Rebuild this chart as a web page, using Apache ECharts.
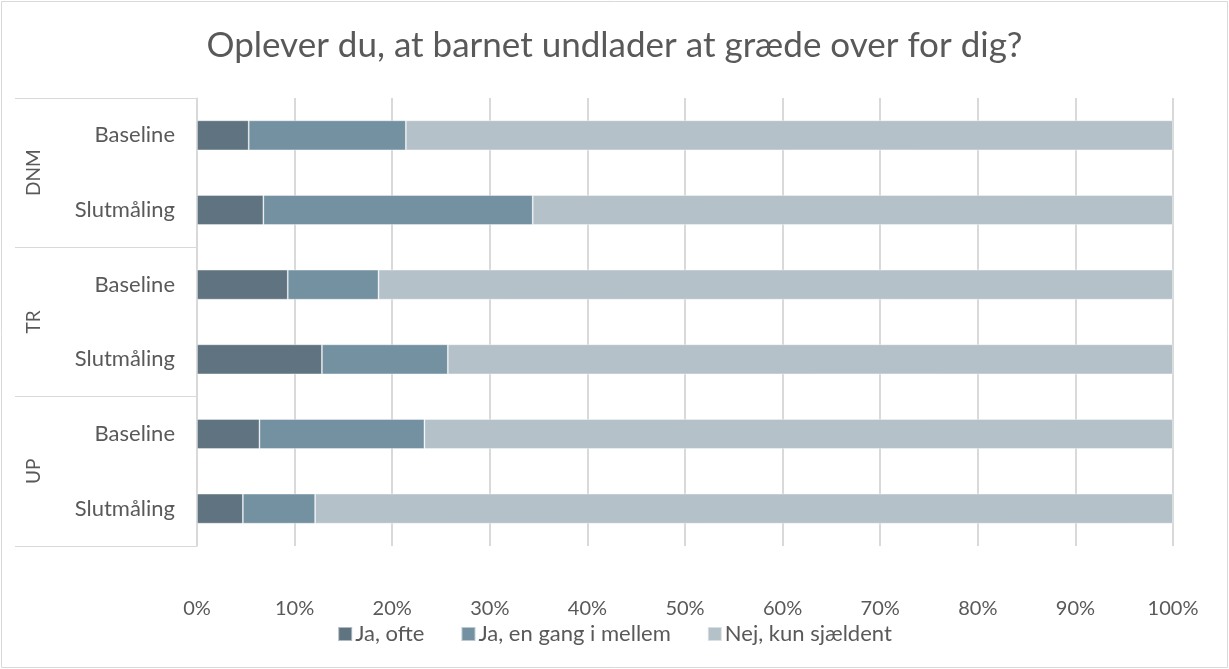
<!DOCTYPE html>
<html>
<head>
<meta charset="utf-8">
<script src="https://cdn.jsdelivr.net/npm/echarts@6/dist/echarts.min.js"></script>
<style>
  html, body { margin: 0; padding: 0; background: #fff; }
  #chart { width: 1229px; height: 669px; }
</style>
</head>
<body>
<div id="chart"></div>
<script>
// data
const groups = ['DNM', 'TR', 'UP']
const categories = ['Baseline', 'Slutmåling', 'Baseline', 'Slutmåling', 'Baseline', 'Slutmåling']
const seriesNames = ['Ja, ofte', 'Ja, en gang i mellem', 'Nej, kun sjældent']
const jaOfte = [5.3, 6.8, 9.3, 12.8, 6.4, 4.7]
const jaEnGang = [16.1, 27.6, 9.3, 12.9, 16.9, 7.4]
const nejSjaeldent = [78.6, 65.6, 81.4, 74.3, 76.7, 87.9]
const xTicks = [0, 10, 20, 30, 40, 50, 60, 70, 80, 90, 100]

const colors = ['#5f7480', '#7491a2', '#b4c1c9']
const font = 'Lato, "Open Sans", sans-serif'
const textColor = '#595959'

const chart = echarts.init(document.getElementById('chart'), null, { renderer: 'canvas' })

const values = [jaOfte, jaEnGang, nejSjaeldent]

chart.setOption({
  animation: false,
  textStyle: { fontFamily: font },
  title: {
    text: 'Oplever du, at barnet undlader at græde over for dig?',
    left: 'center',
    top: 23,
    textStyle: { fontFamily: font, fontSize: 35, fontWeight: 'normal', color: textColor }
  },
  legend: {
    top: 618,
    left: 'center',
    itemWidth: 14,
    itemHeight: 14,
    itemGap: 36,
    icon: 'rect',
    textStyle: { fontFamily: font, fontSize: 22, color: textColor, padding: [0, 0, 0, -2] },
    data: seriesNames
  },
  grid: { left: 197, right: 56, top: 98, bottom: 123 },
  xAxis: {
    type: 'value',
    min: xTicks[0],
    max: xTicks[xTicks.length - 1],
    interval: 10,
    axisLine: { show: false },
    axisTick: { show: false },
    axisLabel: {
      margin: 53,
      fontSize: 20,
      color: textColor,
      formatter: v => v + '%'
    },
    splitLine: { lineStyle: { color: '#d9d9d9', width: 2 } }
  },
  yAxis: [
    {
      type: 'category',
      inverse: true,
      data: categories,
      axisLine: { show: false },
      axisTick: { show: false },
      axisLabel: { margin: 22, fontSize: 22, color: textColor }
    },
    {
      type: 'category',
      inverse: true,
      position: 'left',
      data: groups,
      axisLine: { show: true, lineStyle: { color: '#d9d9d9', width: 1 } },
      axisTick: { show: true, length: 182, interval: 0, lineStyle: { color: '#d9d9d9', width: 1 } },
      axisLabel: { rotate: 90, margin: 154, fontSize: 19, color: textColor, interval: 0 },
      splitLine: { show: false }
    }
  ],
  series: values.map((arr, i) => ({
    name: seriesNames[i],
    type: 'bar',
    stack: 'total',
    barWidth: 30,
    data: arr,
    itemStyle: { color: colors[i], borderColor: 'rgba(255,255,255,0.5)', borderWidth: 0.8 }
  })),
  graphic: [{
    type: 'rect',
    shape: { x: 1.5, y: 1.5, width: 1226, height: 666 },
    style: { fill: 'none', stroke: '#d9d9d9', lineWidth: 1 },
    silent: true
  }]
})
</script>
</body>
</html>
